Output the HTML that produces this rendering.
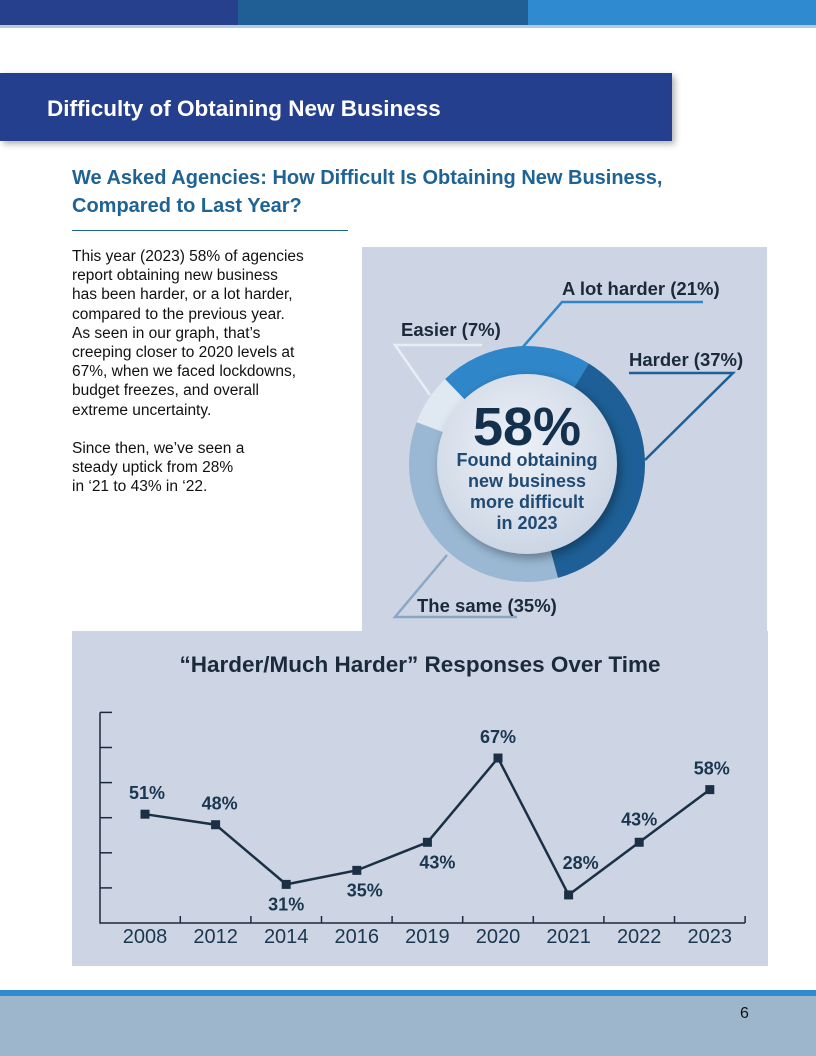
<!DOCTYPE html>
<html><head><meta charset="utf-8"><style>
body{margin:0;width:816px;height:1056px;position:relative;background:#fff;font-family:"Liberation Sans",sans-serif;overflow:hidden}
.abs{position:absolute}
</style></head><body>
<div class="abs" style="left:0;top:0;width:238px;height:25px;background:#26408e"></div>
<div class="abs" style="left:238px;top:0;width:290px;height:25px;background:#1f5f96"></div>
<div class="abs" style="left:528px;top:0;width:288px;height:25px;background:#2f8ad0"></div>
<div class="abs" style="left:0;top:25px;width:816px;height:3px;background:#b7c9da"></div>
<div class="abs" style="left:0;top:73px;width:672px;height:68px;background:#253f8f;box-shadow:3px 3px 6px rgba(0,0,0,.3)"></div>
<div class="abs" style="left:47px;top:96px;color:#fff;font-size:22.5px;font-weight:bold">Difficulty of Obtaining New Business</div>
<div class="abs" style="left:72px;top:164px;width:640px;color:#1f6394;font-size:20px;font-weight:bold;line-height:28px">We Asked Agencies: How Difficult Is Obtaining New Business, Compared to Last Year?</div>
<div class="abs" style="left:72px;top:230px;width:276px;height:1px;background:#1f6394"></div>
<div class="abs" style="left:72px;top:247px;white-space:nowrap;font-size:15.5px;line-height:19.2px;color:#111">This year (2023) 58% of agencies<br>report obtaining new business<br>has been harder, or a lot harder,<br>compared to the previous year.<br>As seen in our graph, that’s<br>creeping closer to 2020 levels at<br>67%, when we faced lockdowns,<br>budget freezes, and overall<br>extreme uncertainty.<br><br>Since then, we’ve seen a<br>steady uptick from 28%<br>in ‘21 to 43% in ‘22.</div>

<div class="abs" style="left:362px;top:247px;width:405px;height:384px;background:#cdd5e4"></div>
<svg class="abs" style="left:0;top:0" width="816" height="1056" id="donut"></svg>

<div class="abs" style="left:72px;top:631px;width:696px;height:335px;background:#cdd5e4"></div>
<div class="abs" style="left:72px;top:652px;width:696px;text-align:center;font-size:22.5px;font-weight:bold;color:#1b2a3a">“Harder/Much Harder” Responses Over Time</div>
<svg class="abs" style="left:0;top:0" width="816" height="1056" id="line"></svg>

<div class="abs" style="left:0;top:990px;width:816px;height:6px;background:#2f8ad0"></div>
<div class="abs" style="left:0;top:996px;width:816px;height:60px;background:#9db6cb"></div>
<div class="abs" style="left:740px;top:1005px;font-size:16px;color:#111">6</div>

<script>
const NS="http://www.w3.org/2000/svg";
function mk(p,t,a){const e=document.createElementNS(NS,t);for(const k in a)e.setAttribute(k,a[k]);p.appendChild(e);return e;}
// donut data
const sliceLabels=["A lot harder (21%)","Harder (37%)","The same (35%)","Easier (7%)"];
const sliceValues=[21,37,35,7];
const sliceColors=["#2f86c8","#1d5f96","#9ab8d3","#e0e8f2"];
const d=document.getElementById('donut');
const cx=527,cy=464,ro=118,ri=88;
// leader lines
[[[522,348],[562,302],[703,302]],[[645,460],[733,373],[629,373]],[[447,555],[395,617],[517,617]],[[430,395],[395,345],[482,345]]].forEach((pts,i)=>{
 const l=mk(d,'polyline',{points:pts.map(p=>p.join(',')).join(' '),fill:'none',stroke:['#2f86c8','#1d5f96','#8aa8c5','#e8eef6'][i],'stroke-width':2.5});
 
 
});
let ang=-44;const tot=sliceValues.reduce((a,b)=>a+b,0);
sliceValues.forEach((v,i)=>{
 const a0=ang*Math.PI/180,a1=(ang+v/tot*360)*Math.PI/180;ang+=v/tot*360;
 const P=(r,a)=>[cx+r*Math.sin(a),cy-r*Math.cos(a)];
 const large=(a1-a0)>Math.PI?1:0;
 const [x0,y0]=P(ro,a0),[x1,y1]=P(ro,a1),[x2,y2]=P(ri,a1),[x3,y3]=P(ri,a0);
 const s=mk(d,'path',{d:`M${x0},${y0}A${ro},${ro} 0 ${large} 1 ${x1},${y1}L${x2},${y2}A${ri},${ri} 0 ${large} 0 ${x3},${y3}Z`,fill:sliceColors[i]});
 
 
});
const defs=mk(d,'defs',{});
const g=mk(defs,'radialGradient',{id:'cg',cx:'45%',cy:'40%',r:'65%'});
mk(g,'stop',{offset:'0','stop-color':'#eef2f8'});mk(g,'stop',{offset:'1','stop-color':'#c9d3e2'});
const f=mk(defs,'filter',{id:'sh'});mk(f,'feDropShadow',{dx:3,dy:4,stdDeviation:5,'flood-opacity':0.35});
const c=mk(d,'circle',{cx:cx,cy:cy,r:90,fill:'url(#cg)',filter:'url(#sh)'});


const lp=[[562,295],[629,366],[417,612],[401,336]];
sliceLabels.forEach((t,i)=>{
 const e=mk(d,'text',{x:lp[i][0],y:lp[i][1],'font-size':18.5,'font-weight':'bold',fill:'#1b2a3a','font-family':'Liberation Sans, sans-serif'});e.textContent=t;
 
 
});
const big=mk(d,'text',{x:cx,y:445,'text-anchor':'middle','font-size':54,'font-weight':'bold',fill:'#13304d','font-family':'Liberation Sans, sans-serif'});big.textContent='58%';


["Found obtaining","new business","more difficult","in 2023"].forEach((t,i)=>{
 const e=mk(d,'text',{x:cx,y:466+i*21,'text-anchor':'middle','font-size':18,'font-weight':'bold',fill:'#1f4a74','font-family':'Liberation Sans, sans-serif'});e.textContent=t;
 
 
});

// line chart data
const years=["2008","2012","2014","2016","2019","2020","2021","2022","2023"];
const values=[51,48,31,35,43,67,28,43,58];
const valueLabels=["51%","48%","31%","35%","43%","67%","28%","43%","58%"];
const labelAbove=[true,true,false,false,false,true,true,true,true];
const yMin=20,yMax=80,yStep=10;
const L=document.getElementById('line');
const X=i=>145+i*70.6;
const Y=v=>923-(v-yMin)*3.51;
const ax=mk(L,'path',{d:`M100,${Y(yMax)}V923H745`,fill:'none',stroke:'#1b2a3a','stroke-width':1.5});


for(let v=yMin+yStep;v<=yMax;v+=yStep){const t=mk(L,'line',{x1:100,x2:112,y1:Y(v),y2:Y(v),stroke:'#1b2a3a','stroke-width':1.5});
 
 }
years.forEach((yr,i)=>{
 const tx=X(i)+35.3;const t=mk(L,'line',{x1:tx,x2:tx,y1:923,y2:916,stroke:'#1b2a3a','stroke-width':1.5});
 
 
 const e=mk(L,'text',{x:X(i),y:943,'text-anchor':'middle','font-size':20,fill:'#1b3650','font-family':'Liberation Sans, sans-serif'});e.textContent=yr;
 
 
});
const ln=mk(L,'polyline',{points:values.map((v,i)=>X(i)+','+Y(v)).join(' '),fill:'none',stroke:'#1b3045','stroke-width':2.5});


const dxOff=[2,4,0,8,10,0,12,0,2];
values.forEach((v,i)=>{
 const m=mk(L,'rect',{x:X(i)-4.5,y:Y(v)-4.5,width:9,height:9,fill:'#1b3045'});
 
 
 const e=mk(L,'text',{x:X(i)+dxOff[i],y:labelAbove[i]?Y(v)-(i==6?26:i==7?17:15):Y(v)+26,'text-anchor':'middle','font-size':18,'font-weight':'bold',fill:'#1b3650','font-family':'Liberation Sans, sans-serif'});
 e.textContent=valueLabels[i];
 
 
});
</script>
</body></html>
